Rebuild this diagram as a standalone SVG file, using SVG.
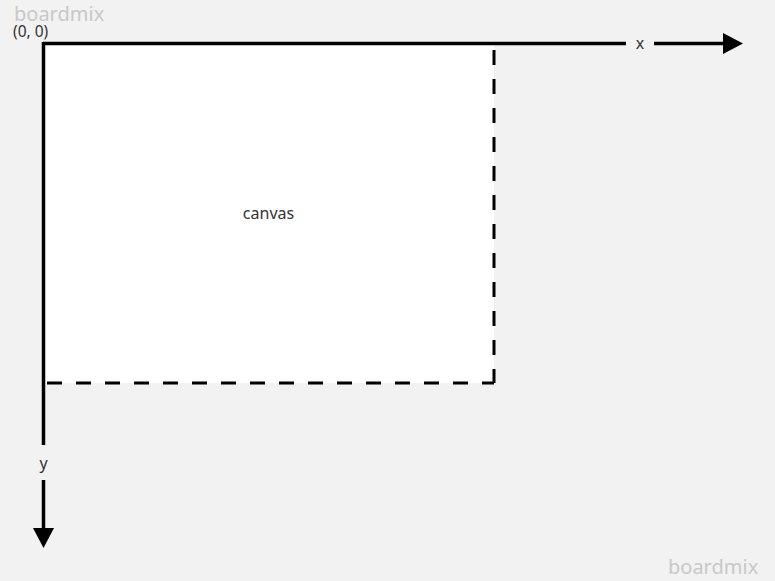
<svg xmlns="http://www.w3.org/2000/svg" width="775" height="581" viewBox="0 0 775 581">
<defs>
<style>
.axis{stroke:#000;stroke-width:3.5;fill:none}
.dash{stroke:#000;stroke-width:3;fill:none;stroke-dasharray:15 14}
.lbl{font-family:"Noto Sans","Open Sans",sans-serif;font-size:16px;fill:#333}
.wm{font-family:"Noto Sans","Open Sans",sans-serif;font-size:20px;fill:#c8c8c8}
</style>
</defs>
<rect width="775" height="581" fill="#f2f2f2"/>
<g id="canvas">
<rect x="43" y="43" width="451" height="340" fill="#fff"/>
<text class="lbl" x="268.5" y="219" text-anchor="middle">canvas</text>
</g>
<g id="connectors">
<line class="dash" x1="494" y1="50" x2="494" y2="383"/>
<line class="dash" x1="494" y1="383" x2="43" y2="383" stroke-dashoffset="3"/>
<line class="axis" x1="43" y1="43.5" x2="626" y2="43.5"/>
<line class="axis" x1="654" y1="43.5" x2="724" y2="43.5"/>
<polygon points="723,33 743,43.5 723,54" fill="#000"/>
<line class="axis" x1="43.5" y1="42" x2="43.5" y2="445"/>
<line class="axis" x1="43.5" y1="480" x2="43.5" y2="529"/>
<polygon points="33,528 54,528 43.5,548" fill="#000"/>
</g>
<g id="labels">
<text class="lbl" x="13" y="37" style="font-size:15.5px">(0, 0)</text>
<text class="lbl" x="640" y="49" text-anchor="middle">x</text>
<text class="lbl" x="43.5" y="469" text-anchor="middle">y</text>
</g>
<text class="wm" x="14" y="21">boardmix</text>
<text class="wm" x="668" y="574">boardmix</text>
</svg>
